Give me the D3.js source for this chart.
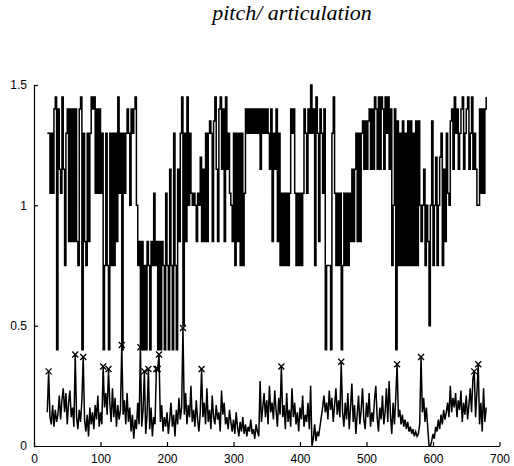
<!DOCTYPE html>
<html>
<head>
<meta charset="utf-8">
<script src="https://cdn.jsdelivr.net/npm/d3@7"></script>
<style>
  body { margin: 0; background: #fff; }
  svg { display: block; }
</style>
</head>
<body>
<div id="chart"></div>
<script>
// sample positions shared by both traces
const xStart = 20;
const xStep = 2;

// pitch levels, coded by letter
const pitchLevels = {
  a: 0.4, b: 0.5, c: 0.75, d: 0.85, e: 1.0, f: 1.05, g: 1.15,
  h: 1.2, i: 1.3, j: 1.35, k: 1.4, l: 1.45, m: 1.5
};
const pitchCodes = [
  "iififklakg", "flgcikdkdk", "dkdcklaidc", "idilklfkfk", "fiacicaici",
  "cidlfiaifi", "kiekiklecd", "adacadcadc", "fcdadadcaf", "cagcaicagd",
  "ilbidleife", "fedfehdgdi", "dijidjlgdk", "lgkdlgifed", "icidicicfk",
  "ikikikikik", "gkikikigkd", "igkdicfcfc", "fcfkikfcfc", "fcfkifkimi",
  "kclidkifka", "cccailfcfc", "facfcfcfdg", "dgididijgj", "gjkgkglkgl",
  "glkglilgkc", "ekajcicjci", "cjcjcicjcj", "edegcedbej", "cehcehicgd",
  "ifejkglikg", "iklgiklgil", "gigeekfkfk", "l"
].join("");

// articulation trace, in hundredths
const articulationPct = [
  14, 31, 12, 9, 17, 8, 15, 10, 13, 21,
  11, 19, 24, 14, 22, 9, 18, 23, 12, 16,
  8, 38, 12, 7, 15, 10, 19, 37, 11, 6,
  13, 4, 16, 9, 14, 7, 17, 11, 21, 8,
  14, 9, 33, 16, 22, 13, 32, 18, 10, 24,
  12, 20, 8, 17, 11, 15, 42, 13, 19, 9,
  22, 10, 16, 6, 13, 3, 11, 7, 18, 9,
  41, 8, 15, 31, 5, 13, 32, 7, 16, 4,
  12, 9, 32, 32, 38, 10, 17, 6, 12, 8,
  14, 5, 11, 18, 8, 13, 4, 15, 9, 20,
  11, 16, 49, 13, 22, 9, 17, 12, 25, 10,
  15, 8, 19, 11, 6, 14, 32, 12, 18, 9,
  24, 10, 15, 7, 21, 12, 9, 17, 11, 14,
  6, 23, 13, 18, 9, 12, 7, 15, 10, 6,
  11, 5, 14, 8, 4, 10, 6, 12, 5, 9,
  4, 8, 6, 11, 5, 7, 3, 9, 6, 4,
  27, 10, 16, 22, 12, 19, 9, 25, 14, 18,
  11, 23, 15, 8, 20, 13, 33, 12, 17, 7,
  22, 10, 15, 8, 24, 12, 18, 9, 14, 6,
  16, 11, 21, 8, 13, 10, 18, 7, 25, 0,
  3, 9, 2, 6, 4, 8, 12, 16, 21, 14,
  18, 11, 23, 15, 20, 10, 17, 24, 13, 19,
  12, 35, 14, 8, 18, 11, 22, 7, 16, 26,
  10, 17, 5, 13, 21, 9, 15, 24, 11, 7,
  18, 12, 22, 8, 14, 10, 19, 25, 12, 6,
  16, 11, 21, 9, 14, 24, 10, 27, 13, 5,
  18, 9, 20, 34, 12, 15, 9, 13, 8, 11,
  7, 10, 6, 8, 5, 7, 4, 6, 4, 5,
  9, 37, 14, 20, 10, 16, 8, 0, 0, 2,
  5, 3, 8, 6, 11, 7, 13, 9, 15, 11,
  14, 18, 12, 25, 14, 20, 16, 22, 12, 19,
  15, 23, 10, 18, 13, 21, 11, 17, 24, 14,
  28, 31, 12, 22, 34, 9, 18, 6, 24, 10,
  16
];

// marked peaks
const markX = [22, 62, 74, 104, 112, 132, 160, 166, 172, 184, 186, 188, 224, 252, 372, 462, 546, 582, 662, 668];
const markY = [0.31, 0.38, 0.37, 0.33, 0.32, 0.42, 0.41, 0.31, 0.32, 0.32, 0.32, 0.38, 0.49, 0.32, 0.33, 0.35, 0.34, 0.37, 0.31, 0.34];

const xTicks = [0, 100, 200, 300, 400, 500, 600, 700];
const yTicks = [0, 0.5, 1, 1.5];

const W = 514, H = 466;
const margin = { top: 85, right: 15, bottom: 20, left: 34 };

const svg = d3.select("#chart").append("svg")
  .attr("width", W)
  .attr("height", H)
  .style("background", "#fff");

const x = d3.scaleLinear().domain([0, 700]).range([margin.left, 499.5]);
const y = d3.scaleLinear().domain([0, 1.5]).range([446, margin.top]);

const pitch = Array.from(pitchCodes, (c, i) => ({ x: xStart + i * xStep, v: pitchLevels[c] }));
const artic = articulationPct.map((p, i) => ({ x: xStart + i * xStep, v: p / 100 }));

const line = d3.line().x(d => x(d.x)).y(d => y(d.v));
// pitch is drawn as held steps, which gives the solid blocks
const stepLine = d3.line().curve(d3.curveStepAfter).x(d => x(d.x)).y(d => y(d.v));

// title
svg.append("text")
  .attr("x", 292)
  .attr("y", 20)
  .attr("text-anchor", "middle")
  .style("font-family", "'Liberation Serif', 'Times New Roman', serif")
  .style("font-style", "italic")
  .style("font-size", "22px")
  .text("pitch/ articulation");

// axes
const xAxis = svg.append("g")
  .attr("transform", `translate(0,${y(0)})`)
  .call(d3.axisBottom(x).tickValues(xTicks).tickFormat(d3.format("d")).tickSizeInner(-4).tickSizeOuter(0).tickPadding(8));

const yAxis = svg.append("g")
  .attr("transform", `translate(${x(0)},0)`)
  .call(d3.axisLeft(y).tickValues(yTicks).tickFormat(d => String(d)).tickSizeInner(-4).tickSizeOuter(0).tickPadding(7));

[xAxis, yAxis].forEach(g => {
  g.select(".domain").attr("stroke", "#000").attr("stroke-width", 1.2);
  g.selectAll(".tick line").attr("stroke", "#000").attr("stroke-width", 1.2);
  g.selectAll("text")
    .style("font-family", "'Liberation Sans', Arial, sans-serif")
    .style("font-size", "12px")
    .attr("fill", "#000");
});

// traces
svg.append("path")
  .datum(pitch)
  .attr("d", stepLine)
  .attr("fill", "none")
  .attr("stroke", "#000")
  .attr("stroke-width", 1.5);

svg.append("path")
  .datum(artic)
  .attr("d", line)
  .attr("fill", "none")
  .attr("stroke", "#000")
  .attr("stroke-width", 1.5);

// x markers
const s = 3;
const marks = svg.append("g").selectAll("g")
  .data(markX.map((d, i) => ({ x: d, v: markY[i] })))
  .join("g")
  .attr("transform", d => `translate(${x(d.x)},${y(d.v)})`);
marks.append("line").attr("x1", -s).attr("y1", -s).attr("x2", s).attr("y2", s);
marks.append("line").attr("x1", -s).attr("y1", s).attr("x2", s).attr("y2", -s);
marks.selectAll("line").attr("stroke", "#000").attr("stroke-width", 1.3);
</script>
</body>
</html>
